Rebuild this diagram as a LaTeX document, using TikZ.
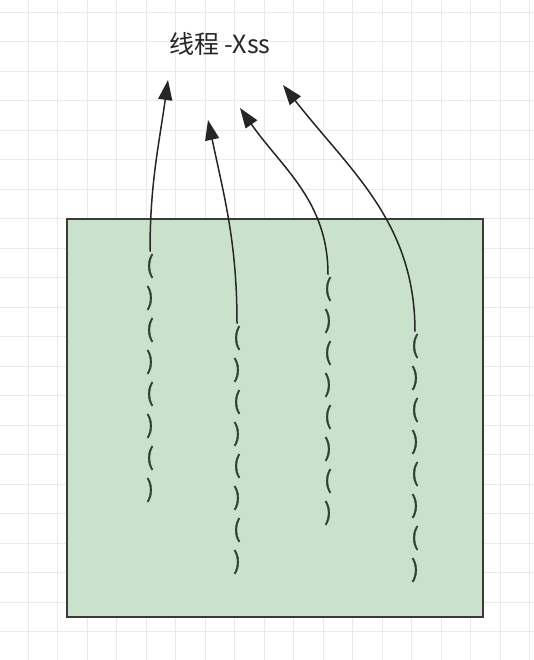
\documentclass[tikz,border=0pt]{standalone}
\usepackage{fontspec}
\newfontfamily\cjk{Noto Sans CJK SC}
\newfontfamily\cjkwave[FakeBold=1.2]{Noto Sans CJK SC}
\usetikzlibrary{arrows.meta, positioning}
\definecolor{gridgray}{RGB}{234,234,234}
\definecolor{boxgreen}{RGB}{202,225,204}
\definecolor{boxline}{RGB}{58,58,58}
\definecolor{waveink}{RGB}{48,66,54}
\definecolor{arrowink}{RGB}{38,38,38}
\tikzstyle{gridline} = [gridgray, line width=0.8pt]
\tikzstyle{stack} = [rectangle, draw=boxline, line width=1.2pt, fill=boxgreen]
\tikzstyle{wave} = [text=waveink, align=center, inner sep=2pt, font=\cjkwave\fontsize{24}{32}\selectfont]
\tikzstyle{title} = [text=arrowink, font=\cjk\fontsize{25}{28}\selectfont]
\tikzstyle{arrow} = [arrowink, line width=1.5pt, -{Triangle[length=20pt,width=14pt]}]
\newcommand{\wave}{(\\)\\(\\)\\(\\)\\(\\)}

\begin{document}
\begin{tikzpicture}[x=1pt, y=1pt]
        \useasboundingbox (0,0) rectangle (534,660);
        \fill[white] (0,0) rectangle (534,660);
        \foreach \i in {0,...,17} \draw[gridline] (28+29.5*\i,0) -- ++(0,660);
        \foreach \j in {0,...,22} \draw[gridline] (0,648-29.5*\j) -- ++(534,0);

        \node[stack, minimum width=416pt, minimum height=398pt] (stack) at (275,242) {};
        \node[title] (xss) at (220,616) {线程 -Xss};

        \node[wave] (w1) at (150,282) {\wave};
        \node[wave] (w2) at (237,210) {\wave};
        \node[wave] (w3) at (328,259) {\wave};
        \node[wave] (w4) at (415,202) {\wave};

        \coordinate (t1) at (168,580);
        \coordinate (t2) at (208,540);
        \coordinate (t3) at (240,552);
        \coordinate (t4) at (283,575);

        \draw[arrow] (w1.north) to[out=90, in=-98] (t1);
        \draw[arrow] (w2.north) to[out=90, in=-78] (t2);
        \draw[arrow] (w3.north) to[out=90, in=-55] (t3);
        \draw[arrow] (w4.north) to[out=90, in=-52] (t4);
    \end{tikzpicture}
\end{document}
